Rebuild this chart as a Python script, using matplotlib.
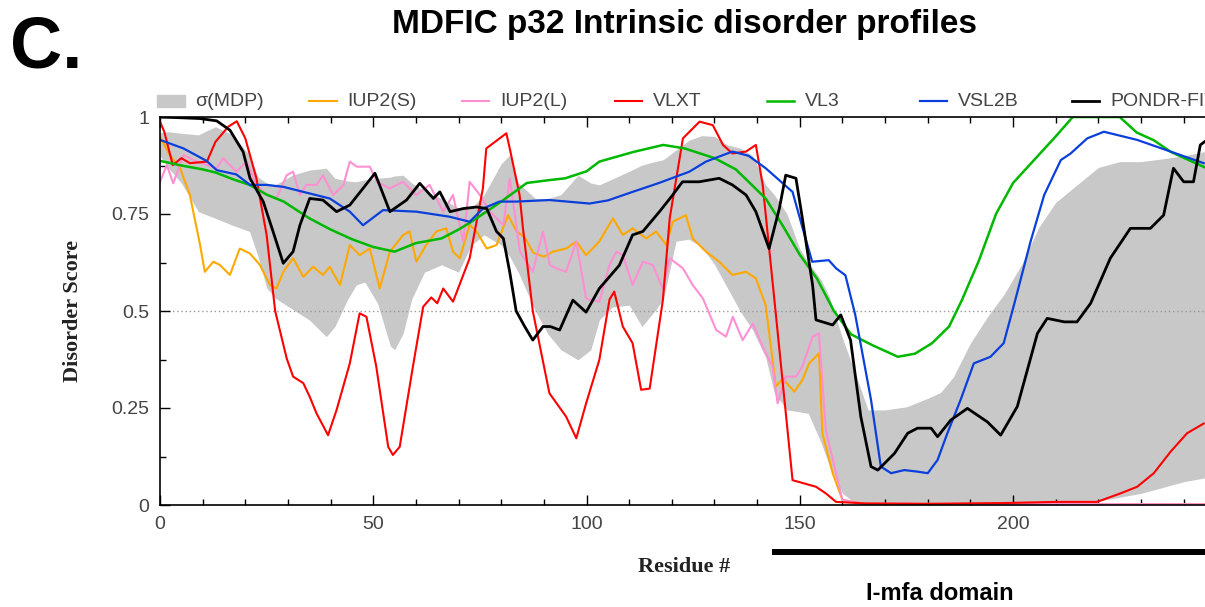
import matplotlib
matplotlib.use('Agg')
import matplotlib.pyplot as plt
from matplotlib.lines import Line2D
from matplotlib.patches import Rectangle
from matplotlib.ticker import MultipleLocator, FixedLocator, FixedFormatter
import matplotlib.transforms as mtransforms

# sigma(MDP) band (lower / upper bounds)
mdp_res = [0, 2, 5, 9, 13, 17, 21, 23, 25, 27, 31, 35, 39, 41, 44, 46, 48, 51, 54, 55,
           57, 59, 62, 66, 70, 73, 76, 80, 82, 84, 88, 91, 94, 98, 101, 103, 106, 110, 113, 116,
           118, 121, 124, 127, 130, 133, 136, 139, 142, 144, 147, 150, 152, 155, 157, 160, 163, 166, 170, 175,
           180, 183, 186, 190, 194, 198, 202, 206, 210, 215, 220, 225, 230, 235, 240, 245]
mdp_upper = [0.96, 0.962, 0.958, 0.954, 0.975, 0.954, 0.902, 0.845, 0.83, 0.825,
             0.85, 0.863, 0.868, 0.842, 0.835, 0.833, 0.838, 0.842, 0.845, 0.848,
             0.85, 0.83, 0.81, 0.79, 0.765, 0.765, 0.80, 0.88, 0.902, 0.83,
             0.79, 0.79, 0.80, 0.85, 0.83, 0.825, 0.84, 0.86, 0.876, 0.885,
             0.89, 0.915, 0.94, 0.952, 0.95, 0.928, 0.92, 0.90, 0.825, 0.80,
             0.75, 0.66, 0.625, 0.58, 0.535, 0.43, 0.34, 0.245, 0.245, 0.253,
             0.275, 0.29, 0.33, 0.417, 0.485, 0.545, 0.62, 0.715, 0.78, 0.825,
             0.87, 0.885, 0.885, 0.892, 0.90, 0.911]
mdp_lower = [0.90, 0.868, 0.83, 0.756, 0.739, 0.721, 0.705, 0.64, 0.56, 0.533,
             0.505, 0.477, 0.434, 0.46, 0.53, 0.567, 0.575, 0.52, 0.41, 0.40,
             0.442, 0.53, 0.60, 0.619, 0.60, 0.67, 0.696, 0.67, 0.64, 0.60,
             0.50, 0.44, 0.40, 0.374, 0.40, 0.477, 0.51, 0.515, 0.46, 0.50,
             0.53, 0.68, 0.685, 0.665, 0.62, 0.56, 0.50, 0.45, 0.38, 0.29,
             0.245, 0.24, 0.236, 0.16, 0.10, 0.03, 0.005, 0.0, 0.0, 0.0,
             0.0, 0.0, 0.0, 0.0, 0.0, 0.0, 0.0, 0.0, 0.0, 0.005,
             0.01, 0.02, 0.03, 0.045, 0.06, 0.07]

# IUP2(S)
iups_res = [0, 2.3, 4.7, 7, 9.4, 10.5, 12.5, 14, 16.4, 18.7, 21.1, 23.4, 25.8, 27.3, 28.9,
            31.2, 33.6, 35.9, 38.2, 39.8, 42.2, 44.5, 46.8, 49.2, 51.5, 53.9, 57, 58.5, 60.1, 62.4,
            64.8, 67.1, 68.7, 70.3, 72.6, 74.2, 76.6, 78.9, 81.6, 83.6, 85.5, 87.5, 90, 92.1, 95.2,
            97.6, 99.9, 103, 106.2, 108.5, 110.8, 114, 116.3, 118.7, 120.2, 123.3, 124.9, 128, 131.1, 134.2,
            137.4, 139.7, 142, 144.4, 146, 148.7, 150.6, 152.2, 154.5, 155.3, 157.7, 160, 165, 245]
iups = [0.949, 0.902, 0.868, 0.799, 0.67, 0.601, 0.627, 0.619, 0.593, 0.661, 0.648, 0.619, 0.567, 0.558, 0.601,
        0.636, 0.588, 0.614, 0.593, 0.614, 0.567, 0.67, 0.644, 0.661, 0.558, 0.653, 0.696, 0.705, 0.627, 0.67,
        0.705, 0.713, 0.653, 0.636, 0.722, 0.705, 0.661, 0.67, 0.747, 0.705, 0.69, 0.65, 0.64, 0.653, 0.661,
        0.679, 0.644, 0.679, 0.739, 0.696, 0.713, 0.687, 0.705, 0.67, 0.73, 0.747, 0.687, 0.653, 0.627, 0.593,
        0.601, 0.584, 0.515, 0.305, 0.326, 0.292, 0.322, 0.365, 0.391, 0.185, 0.082, 0.013, 0.003, 0.002]

# IUP2(L)
iupl_res = [0, 1.6, 3.1, 5.5, 8.6, 13.3, 14.8, 17.9, 20.3, 22.6, 25, 27.3, 29.7, 31.2, 32.8,
            34.3, 36.7, 38.2, 40.6, 43, 44.5, 46.1, 49.2, 50.8, 53.9, 57, 60.1, 63.2, 66.4, 68.7,
            71.1, 72.6, 75, 77.4, 80.5, 82, 84.4, 87.4, 89.8, 91.4, 92.9, 95.2, 97.6, 99.9, 103,
            105.4, 107, 108.5, 110.8, 113.2, 115.5, 117.9, 119.5, 122.6, 124.9, 127.3, 130.4, 132.7, 134.3, 136.6,
            139, 141.3, 143.6, 144.8, 146.7, 149.1, 150.6, 153, 154.5, 156.1, 158.5, 160, 165, 245]
iupl = [0.833, 0.876, 0.829, 0.902, 0.885, 0.868, 0.894, 0.859, 0.885, 0.825, 0.799, 0.79, 0.85, 0.859, 0.799,
        0.825, 0.825, 0.85, 0.799, 0.825, 0.885, 0.872, 0.872, 0.833, 0.816, 0.833, 0.799, 0.825, 0.756, 0.799,
        0.679, 0.833, 0.799, 0.756, 0.721, 0.842, 0.653, 0.601, 0.705, 0.619, 0.61, 0.601, 0.679, 0.532, 0.524,
        0.619, 0.653, 0.644, 0.567, 0.627, 0.619, 0.558, 0.636, 0.61, 0.567, 0.532, 0.451, 0.434, 0.485, 0.425,
        0.468, 0.408, 0.357, 0.262, 0.331, 0.331, 0.357, 0.434, 0.442, 0.193, 0.082, 0.013, 0.003, 0.002]

# VLXT
vlxt_res = [0, 1, 3, 5, 7, 11, 13, 16, 18, 20, 22.6, 25, 27, 29.7, 31.2, 33.6, 35.1, 36.7, 39.4, 41.4,
            44.5, 46.8, 48.4, 50.7, 53.5, 54.6, 56.2, 59.3, 61.7, 63.6, 65, 66.4, 68.7, 72.6, 75.7,
            76.5, 81.2, 82, 84.3, 85.1, 87.4, 91.3, 95.2, 97.6, 99.9, 103, 105.4, 106.5, 108.5, 110.8,
            112.8, 114.8, 117.9, 119.5, 122.6, 126.5, 129.6, 132, 134.2, 137.4, 139.7, 141.3, 144.4, 148.3, 153.8,
            156.1, 158.5, 165.5, 180, 197.8, 210, 219.7, 225.2, 229.1, 233, 236.9, 240.8, 244.7]
vlxt = [0.988, 0.962, 0.876, 0.894, 0.881, 0.885, 0.936, 0.975, 0.989, 0.945, 0.842, 0.696, 0.50, 0.378, 0.331,
        0.314, 0.279, 0.236, 0.18, 0.245, 0.365, 0.494, 0.485, 0.357, 0.15, 0.129, 0.15, 0.357, 0.511, 0.535,
        0.52, 0.558, 0.524, 0.636, 0.816, 0.919, 0.958, 0.919, 0.799, 0.713, 0.50, 0.288, 0.228, 0.172, 0.262,
        0.374, 0.53, 0.55, 0.46, 0.417, 0.297, 0.30, 0.528, 0.739, 0.945, 0.988, 0.979, 0.928, 0.906, 0.911,
        0.928, 0.825, 0.49, 0.064, 0.047, 0.03, 0.008, 0.004, 0.003, 0.005, 0.008, 0.008, 0.03, 0.047, 0.082,
        0.137, 0.185, 0.21]

# VL3
vl3_res = [0, 5, 10, 13, 17, 21, 25, 29, 35, 40, 45, 50, 55, 60, 66, 70, 73, 80, 86, 91,
           95, 100, 103, 111, 118, 123, 130, 135, 138, 142, 146, 150, 154, 158, 162, 167, 173, 177, 181, 185,
           188, 192, 196, 200, 205, 210, 214, 220, 225, 229, 233, 237, 241, 245]
vl3 = [0.887, 0.875, 0.865, 0.857, 0.84, 0.825, 0.80, 0.782, 0.739, 0.71, 0.685, 0.665, 0.653, 0.675, 0.687,
       0.71, 0.73, 0.782, 0.83, 0.837, 0.842, 0.86, 0.885, 0.91, 0.928, 0.919, 0.894, 0.865, 0.833, 0.79,
       0.72, 0.645, 0.584, 0.50, 0.44, 0.412, 0.382, 0.39, 0.417, 0.46, 0.528, 0.63, 0.75, 0.83, 0.89,
       0.95, 1.0, 1.0, 1.0, 0.96, 0.94, 0.91, 0.89, 0.87]

# VSL2B
vsl2b_res = [0, 5.5, 10.9, 13.3, 17.9, 21.1, 25, 28.9, 33.6, 39.8, 44.5, 47.6, 52.3, 60.1, 67.9,
             72.6, 75.7, 79.6, 83.5, 91.3, 100.7, 105, 110.8, 117, 124.1, 128, 134.2, 138, 142, 148.3,
             150.5, 152.9, 156.8, 158.5, 160.7, 163, 166.7, 169, 171.4, 174.5, 177.6, 180, 182.3, 184.6, 187.7,
             190.8, 194.7, 197.8, 200.2, 204.1, 207.3, 211.2, 213.5, 217.4, 221.3, 229.1, 236.9, 244.7]
vsl2b = [0.941, 0.919, 0.887, 0.863, 0.852, 0.825, 0.825, 0.82, 0.807, 0.79, 0.756, 0.721, 0.76, 0.756, 0.743,
         0.73, 0.764, 0.782, 0.782, 0.786, 0.777, 0.785, 0.807, 0.83, 0.859, 0.885, 0.911, 0.90, 0.868, 0.807,
         0.72, 0.627, 0.631, 0.61, 0.592, 0.49, 0.271, 0.099, 0.082, 0.09, 0.086, 0.082, 0.116, 0.185, 0.271,
         0.365, 0.382, 0.417, 0.515, 0.679, 0.799, 0.889, 0.906, 0.945, 0.962, 0.941, 0.911, 0.881]

# PONDR-FIT
pfit_res = [0, 5, 9.4, 13.3, 16.4, 19.5, 21.1, 24.2, 26.5, 28.9, 31.2, 32.8, 35.1, 38.2, 41.4,
            44.5, 47.6, 50.4, 53.9, 57.8, 60.9, 64.1, 65.6, 68, 71.1, 74.2, 76.6, 78.9, 80.5, 82,
            83.5, 85.5, 87.4, 89.8, 91.5, 93.7, 96.8, 99.9, 103, 107.7, 110.8, 113.2, 117.1, 120.2, 122.5,
            126.4, 131.1, 134.2, 137.4, 139.7, 142.8, 145.2, 146.7, 149.1, 150.6, 153, 153.8, 157.7, 159.6, 161.9,
            164.3, 166.7, 168.3, 172.2, 175.3, 177.6, 180.8, 182.3, 185.4, 189.3, 194, 197.1, 201, 205.7, 208,
            212, 215, 218.2, 222.8, 227.5, 232.2, 235.3, 237.6, 240, 242.3, 243.9, 245]
pfit = [1.0, 0.998, 0.996, 0.99, 0.966, 0.91, 0.842, 0.782, 0.705, 0.623, 0.653, 0.721, 0.79, 0.786, 0.756,
        0.773, 0.816, 0.855, 0.756, 0.786, 0.829, 0.79, 0.807, 0.756, 0.764, 0.768, 0.764, 0.705, 0.687, 0.60,
        0.50, 0.46, 0.425, 0.46, 0.46, 0.451, 0.528, 0.497, 0.558, 0.618, 0.696, 0.705, 0.756, 0.799, 0.833,
        0.833, 0.842, 0.825, 0.799, 0.756, 0.661, 0.764, 0.85, 0.842, 0.739, 0.567, 0.477, 0.464, 0.49, 0.425,
        0.228, 0.099, 0.09, 0.133, 0.185, 0.198, 0.198, 0.176, 0.219, 0.249, 0.214, 0.18, 0.254, 0.442, 0.481,
        0.472, 0.472, 0.52, 0.636, 0.713, 0.713, 0.747, 0.868, 0.833, 0.833, 0.928, 0.937]

series = [
    ('IUP2(S)', '#FFA800', iups_res, iups, 1.5),
    ('IUP2(L)', '#FF8FD2', iupl_res, iupl, 1.5),
    ('VLXT', '#FF0000', vlxt_res, vlxt, 1.5),
    ('VL3', '#00B800', vl3_res, vl3, 1.8),
    ('VSL2B', '#0A3FDC', vsl2b_res, vsl2b, 1.6),
    ('PONDR-FIT', '#000000', pfit_res, pfit, 2.0),
]

domain_start = 143.5
x_max = 245
band_color = '#C8C8C8'
sans = ['Liberation Sans', 'DejaVu Sans']
serif = ['Liberation Serif', 'DejaVu Serif']

W, H = 1205, 607
fig = plt.figure(figsize=(W / 100, H / 100), dpi=100)
ax = fig.add_axes([160 / W, 1 - 505 / H, (W - 160) / W, 388 / H])

ax.fill_between(mdp_res, mdp_lower, mdp_upper, color=band_color, linewidth=0, zorder=1)
ax.axhline(0.5, color='#999999', linestyle=(0, (1, 2)), linewidth=1, zorder=1.5)
for name, color, r, s, lw in series:
    ax.plot(r, s, color=color, linewidth=lw, zorder=2)

ax.set_xlim(0, x_max)
ax.set_ylim(0, 1)
ax.xaxis.set_major_locator(MultipleLocator(50))
ax.xaxis.set_minor_locator(MultipleLocator(10))
ax.yaxis.set_major_locator(FixedLocator([0, 0.25, 0.5, 0.75, 1]))
ax.yaxis.set_major_formatter(FixedFormatter(['0', '0.25', '0.5', '0.75', '1']))
ax.yaxis.set_minor_locator(MultipleLocator(0.125))
ax.tick_params(which='both', direction='in', top=True, right=False, width=1, colors='black',
               labelcolor='#444444', labelsize=14)
ax.tick_params(which='major', length=7, pad=8)
ax.tick_params(which='minor', length=4)
for lbl in ax.get_xticklabels() + ax.get_yticklabels():
    lbl.set_family(sans)
ax.spines['right'].set_visible(False)
for sp in ['left', 'top', 'bottom']:
    ax.spines[sp].set_linewidth(1.2)

# legend row above the axes
fx = lambda px: px / W
fy = lambda py: 1 - py / H
leg_y = 101
leg_names = ['σ(MDP)'] + [s[0] for s in series]
for i, name in enumerate(leg_names):
    x0 = 157 + 152.5 * i
    if i == 0:
        fig.add_artist(Rectangle((fx(x0), fy(leg_y + 6)), 28 / W, 12 / H, color=band_color,
                                 transform=fig.transFigure))
    else:
        _, color, _, _, lw = series[i - 1]
        fig.add_artist(Line2D([fx(x0), fx(x0 + 27)], [fy(leg_y), fy(leg_y)], color=color,
                              linewidth=lw, transform=fig.transFigure))
    fig.text(fx(x0 + 38), fy(leg_y), name, ha='left', va='center', fontsize=14,
             color='#444444', family=sans)

# titles and labels
fig.text(fx(685), fy(24), 'MDFIC p32 Intrinsic disorder profiles', ha='center', va='center',
         fontsize=24, fontweight='bold', family=sans)
fig.text(fx(10), fy(49), 'C.', ha='left', va='center', fontsize=52, fontweight='bold', family=sans)
fig.text(fx(73), fy(311), 'Disorder Score', rotation=90, ha='center', va='center',
         fontsize=16, fontweight='bold', family=serif, color='#222222')
fig.text(fx(684), fy(567), 'Residue #', ha='center', va='center',
         fontsize=16, fontweight='bold', family=serif, color='#222222')
fig.text(fx(940), fy(594), 'I-mfa domain', ha='center', va='center',
         fontsize=17, fontweight='bold', family=sans)

# I-mfa domain bar under the axis
trans = mtransforms.blended_transform_factory(ax.transData, ax.transAxes)
ax.plot([domain_start, x_max], [-47 / 388, -47 / 388], color='black', linewidth=4.3,
        solid_capstyle='butt', transform=trans, clip_on=False)

fig.savefig('out.png', dpi=100)
